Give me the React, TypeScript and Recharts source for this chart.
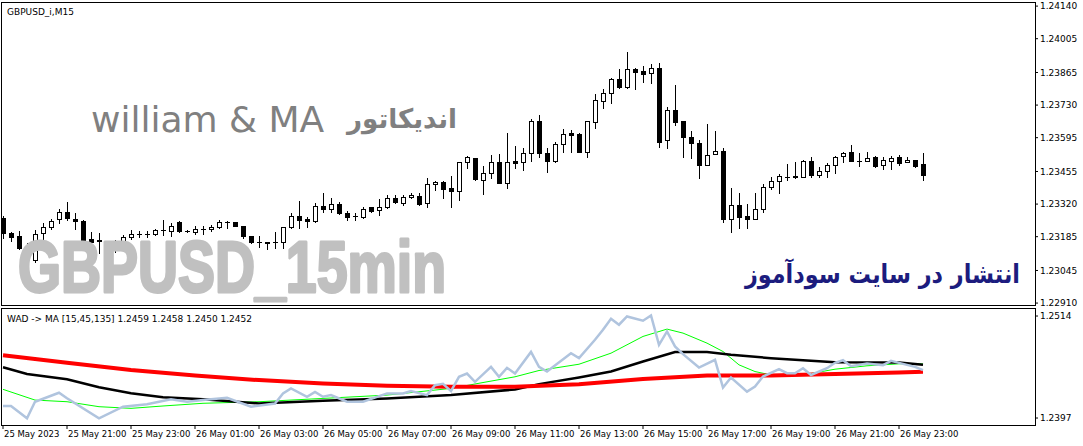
import React from 'react';
import { ComposedChart, Bar, Line, XAxis, YAxis, ReferenceArea } from 'recharts';

// GBPUSD M15, 25 May 19:00 -> 26 May 23:45, one value per bar
const openPrices = [
    1.23262, 1.23200, 1.23188, 1.23146, 1.23088, 1.23200, 1.23225, 1.23258, 1.23287, 1.23258,
    1.23250, 1.23175, 1.23171, 1.23138, 1.23138, 1.23154, 1.23183, 1.23196, 1.23196, 1.23196,
    1.23212, 1.23208, 1.23246, 1.23208, 1.23204, 1.23217, 1.23217, 1.23225, 1.23246, 1.23246,
    1.23229, 1.23188, 1.23163, 1.23163, 1.23163, 1.23163, 1.23225, 1.23270, 1.23258, 1.23250,
    1.23312, 1.23299, 1.23320, 1.23283, 1.23270, 1.23266, 1.23308, 1.23295, 1.23308, 1.23345,
    1.23324, 1.23349, 1.23353, 1.23324, 1.23403, 1.23411, 1.23386, 1.23374, 1.23494, 1.23511,
    1.23419, 1.23448, 1.23494, 1.23407, 1.23498, 1.23494, 1.23531, 1.23664, 1.23531, 1.23498,
    1.23569, 1.23614, 1.23610, 1.23535, 1.23660, 1.23747, 1.23780, 1.23838, 1.23805, 1.23879,
    1.23871, 1.23863, 1.23883, 1.23585, 1.23709, 1.23664, 1.23598, 1.23573, 1.23482, 1.23527,
    1.23540, 1.23258, 1.23316, 1.23270, 1.23258, 1.23299, 1.23390, 1.23415, 1.23432, 1.23436,
    1.23432, 1.23498, 1.23440, 1.23457, 1.23482, 1.23519, 1.23535, 1.23498, 1.23498, 1.23515,
    1.23482, 1.23498, 1.23515, 1.23494, 1.23502, 1.23486,
];
const highPrices = [
    1.23270, 1.23204, 1.23208, 1.23159, 1.23212, 1.23241, 1.23258, 1.23299, 1.23328, 1.23283,
    1.23254, 1.23204, 1.23200, 1.23150, 1.23171, 1.23192, 1.23212, 1.23208, 1.23208, 1.23217,
    1.23254, 1.23241, 1.23250, 1.23212, 1.23229, 1.23229, 1.23233, 1.23254, 1.23250, 1.23246,
    1.23229, 1.23188, 1.23188, 1.23163, 1.23204, 1.23225, 1.23283, 1.23333, 1.23266, 1.23324,
    1.23366, 1.23345, 1.23328, 1.23291, 1.23283, 1.23308, 1.23308, 1.23341, 1.23357, 1.23357,
    1.23357, 1.23366, 1.23366, 1.23428, 1.23415, 1.23415, 1.23436, 1.23494, 1.23519, 1.23511,
    1.23477, 1.23523, 1.23527, 1.23614, 1.23560, 1.23552, 1.23672, 1.23689, 1.23552, 1.23577,
    1.23631, 1.23627, 1.23614, 1.23664, 1.23776, 1.23796, 1.23842, 1.23879, 1.23950, 1.23883,
    1.23892, 1.23900, 1.23904, 1.23722, 1.23813, 1.23664, 1.23622, 1.23585, 1.23651, 1.23622,
    1.23552, 1.23386, 1.23366, 1.23320, 1.23366, 1.23403, 1.23432, 1.23444, 1.23486, 1.23494,
    1.23502, 1.23515, 1.23473, 1.23490, 1.23519, 1.23535, 1.23564, 1.23531, 1.23535, 1.23519,
    1.23515, 1.23519, 1.23523, 1.23515, 1.23502, 1.23531,
];
const lowPrices = [
    1.23179, 1.23167, 1.23134, 1.23105, 1.23080, 1.23163, 1.23217, 1.23241, 1.23254, 1.23217,
    1.23167, 1.23159, 1.23117, 1.23105, 1.23121, 1.23138, 1.23175, 1.23183, 1.23183, 1.23192,
    1.23192, 1.23188, 1.23204, 1.23204, 1.23196, 1.23196, 1.23208, 1.23221, 1.23221, 1.23229,
    1.23179, 1.23159, 1.23142, 1.23134, 1.23138, 1.23138, 1.23221, 1.23221, 1.23225, 1.23246,
    1.23287, 1.23287, 1.23279, 1.23254, 1.23254, 1.23262, 1.23287, 1.23275, 1.23304, 1.23324,
    1.23316, 1.23345, 1.23316, 1.23308, 1.23378, 1.23345, 1.23308, 1.23337, 1.23469, 1.23419,
    1.23362, 1.23428, 1.23407, 1.23386, 1.23469, 1.23461, 1.23498, 1.23515, 1.23453, 1.23494,
    1.23535, 1.23535, 1.23535, 1.23515, 1.23635, 1.23718, 1.23738, 1.23800, 1.23800, 1.23796,
    1.23825, 1.23821, 1.23556, 1.23552, 1.23647, 1.23515, 1.23511, 1.23428, 1.23482, 1.23527,
    1.23246, 1.23204, 1.23221, 1.23221, 1.23258, 1.23287, 1.23382, 1.23366, 1.23419, 1.23428,
    1.23432, 1.23432, 1.23432, 1.23432, 1.23448, 1.23494, 1.23498, 1.23477, 1.23498, 1.23473,
    1.23465, 1.23465, 1.23482, 1.23494, 1.23473, 1.23419,
];
const closePrices = [
    1.23200, 1.23183, 1.23138, 1.23121, 1.23196, 1.23225, 1.23250, 1.23287, 1.23262, 1.23250,
    1.23171, 1.23163, 1.23167, 1.23138, 1.23163, 1.23183, 1.23196, 1.23196, 1.23196, 1.23212,
    1.23212, 1.23229, 1.23208, 1.23208, 1.23217, 1.23217, 1.23225, 1.23246, 1.23246, 1.23229,
    1.23188, 1.23163, 1.23163, 1.23159, 1.23163, 1.23225, 1.23270, 1.23254, 1.23250, 1.23312,
    1.23299, 1.23320, 1.23283, 1.23266, 1.23270, 1.23299, 1.23291, 1.23308, 1.23345, 1.23328,
    1.23349, 1.23357, 1.23320, 1.23403, 1.23411, 1.23382, 1.23374, 1.23494, 1.23515, 1.23424,
    1.23448, 1.23494, 1.23407, 1.23494, 1.23490, 1.23531, 1.23664, 1.23531, 1.23498, 1.23569,
    1.23610, 1.23606, 1.23535, 1.23664, 1.23751, 1.23780, 1.23838, 1.23805, 1.23879, 1.23867,
    1.23858, 1.23883, 1.23577, 1.23709, 1.23660, 1.23598, 1.23573, 1.23482, 1.23523, 1.23540,
    1.23258, 1.23316, 1.23266, 1.23258, 1.23299, 1.23390, 1.23415, 1.23436, 1.23432, 1.23432,
    1.23498, 1.23440, 1.23457, 1.23482, 1.23515, 1.23531, 1.23498, 1.23498, 1.23511, 1.23477,
    1.23502, 1.23511, 1.23490, 1.23502, 1.23477, 1.23440,
];

const priceTicks = [1.2291, 1.23045, 1.23185, 1.2332, 1.23455, 1.23595, 1.2373, 1.23865, 1.24005, 1.2414];
const timeTickBars = [0, 8, 16, 24, 32, 40, 48, 56, 64, 72, 80, 88, 96, 104, 112];
const timeLabels = [
    '25 May 2023', '25 May 21:00', '25 May 23:00', '26 May 01:00', '26 May 03:00',
    '26 May 05:00', '26 May 07:00', '26 May 09:00', '26 May 11:00', '26 May 13:00',
    '26 May 15:00', '26 May 17:00', '26 May 19:00', '26 May 21:00', '26 May 23:00',
];

// WAD indicator panel, read at the bars where the lines bend
const ma15Bars = [0, 4, 8, 12, 16, 20, 25, 32, 40, 48, 56, 60, 64, 67, 72, 76, 80, 83, 85, 88, 90, 92, 94, 96, 100, 104, 108, 112, 114, 115];
const ma15Values = [
    1.24299, 1.24176, 1.24157, 1.24100, 1.24081, 1.24108, 1.24139, 1.24157, 1.24195, 1.24233,
    1.24310, 1.24377, 1.24443, 1.24515, 1.24587, 1.24714, 1.24906, 1.24990, 1.24944, 1.24829,
    1.24733, 1.24580, 1.24503, 1.24464, 1.24464, 1.24530, 1.24569, 1.24592, 1.24595, 1.24590,
];
const ma45Bars = [0, 3, 8, 12, 16, 20, 25, 32, 40, 48, 56, 64, 67, 72, 76, 80, 84, 88, 91, 96, 104, 112, 115];
const ma45Values = [
    1.24552, 1.24475, 1.24414, 1.24322, 1.24253, 1.24207, 1.24184, 1.24137, 1.24168, 1.24195,
    1.24233, 1.24298, 1.24359, 1.24435, 1.24503, 1.24618, 1.24726, 1.24726, 1.24695, 1.24657,
    1.24610, 1.24607, 1.24580,
];
const ma135Bars = [0, 8, 16, 24, 32, 40, 48, 56, 64, 72, 80, 88, 96, 104, 112, 115];
const ma135Values = [
    1.24690, 1.24605, 1.24520, 1.24457, 1.24405, 1.24366, 1.24339, 1.24328, 1.24328, 1.24358,
    1.24418, 1.24457, 1.24457, 1.24476, 1.24492, 1.24500,
];
const wadBars = [
    0, 1, 3, 4, 7, 8, 12, 15, 18, 21, 23, 25, 28, 31, 34, 35, 36, 38, 39, 40,
    41, 43, 45, 48, 50, 51, 53, 54, 55, 56, 57, 58, 59, 61, 62, 63, 64, 66, 67, 68,
    71, 72, 74, 75, 76, 77, 78, 80, 81, 82, 83, 84, 85, 87, 89, 90, 91, 93, 94, 95,
    97, 98, 99, 100, 101, 103, 104, 105, 106, 108, 110, 111, 112, 114, 115,
];
const wadValues = [
    1.24108, 1.24108, 1.23967, 1.24157, 1.24260, 1.24196, 1.23967, 1.24100, 1.24127, 1.24184,
    1.24157, 1.24176, 1.24203, 1.24100, 1.24137, 1.24252, 1.24310, 1.24214, 1.24270, 1.24214,
    1.24233, 1.24157, 1.24157, 1.24252, 1.24252, 1.24279, 1.24233, 1.24347, 1.24362, 1.24279,
    1.24443, 1.24480, 1.24385, 1.24557, 1.24443, 1.24546, 1.24480, 1.24728, 1.24557, 1.24503,
    1.24714, 1.24657, 1.24867, 1.24983, 1.25109, 1.25040, 1.25135, 1.25086, 1.25147, 1.24810,
    1.24963, 1.24791, 1.24703, 1.24549, 1.24638, 1.24319, 1.24435, 1.24273, 1.24330, 1.24446,
    1.24530, 1.24484, 1.24484, 1.24541, 1.24464, 1.24541, 1.24603, 1.24633, 1.24564, 1.24595,
    1.24576, 1.24626, 1.24603, 1.24557, 1.24520,
];
const wadTicks = [1.2397, 1.2514];

const candles = openPrices.map((open, i) => ({
    i,
    open,
    high: highPrices[i],
    low: lowPrices[i],
    close: closePrices[i],
}));

function pick(bars: number[], values: number[], i: number): number | null {
    const k = bars.indexOf(i);
    return k < 0 ? null : values[k];
}

const wadRows = openPrices.map((_, i) => ({
    i,
    ma15: pick(ma15Bars, ma15Values, i),
    ma45: pick(ma45Bars, ma45Values, i),
    ma135: pick(ma135Bars, ma135Values, i),
    wad: pick(wadBars, wadValues, i),
}));

const FONT = '"DejaVu Sans", Tahoma, sans-serif';
const X_DOMAIN: [number, number] = [-0.25, 129];
const PRICE_DOMAIN: [number, number] = [1.22902, 1.24157];
const WAD_DOMAIN: [number, number] = [1.2389, 1.25232];

function Candle(props: any) {
    const { x, y, width, height, payload } = props;
    if (x == null || y == null || !payload) return null;
    const top = height >= 0 ? y : y + height;
    const span = Math.abs(height);
    const range = payload.high - payload.low;
    const toPx = (v: number) => top + (range > 0 ? ((payload.high - v) / range) * span : 0);
    const c = Math.round(x + width / 2);
    const wickTop = Math.round(toPx(payload.high));
    const wickBottom = Math.round(toPx(payload.low));
    const bodyTop = Math.round(toPx(Math.max(payload.open, payload.close)));
    const bodyBottom = Math.round(toPx(Math.min(payload.open, payload.close)));
    const bullish = payload.close > payload.open;

    return (
        <g shapeRendering="crispEdges">
            <rect x={c} y={wickTop} width={1} height={wickBottom - wickTop + 1} fill="#000" />
            {bodyBottom - bodyTop < 1 ? (
                <rect x={c - 2} y={bodyTop} width={5} height={1} fill="#000" />
            ) : bullish ? (
                <rect x={c - 1.5} y={bodyTop + 0.5} width={4} height={bodyBottom - bodyTop} fill="#fff" stroke="#000" strokeWidth={1} />
            ) : (
                <rect x={c - 2} y={bodyTop} width={5} height={bodyBottom - bodyTop + 1} fill="#000" />
            )}
        </g>
    );
}

function Frame(props: any) {
    return (
        <rect
            x={Math.round(props.x) + 0.5}
            y={Math.round(props.y) + 0.5}
            width={Math.round(props.width)}
            height={Math.round(props.height)}
            fill="none"
            stroke="#000"
            strokeWidth={1}
            shapeRendering="crispEdges"
        />
    );
}

function TimeTick(props: any) {
    const { x, y, payload } = props;
    const label = timeLabels[timeTickBars.indexOf(payload.value)];
    return (
        <text x={Math.round(x) + 1} y={y} dy="0.71em" textAnchor="start" fontFamily={FONT} fontSize={8.5} fill="#000">
            {label}
        </text>
    );
}

export default function App() {
    return (
        <div style={{ position: 'absolute', left: 0, top: 0, width: 1083, height: 446, background: '#fff', overflow: 'hidden' }}>
            <div style={{ position: 'absolute', left: 0, top: 0 }}>
                <ComposedChart width={1083} height={310} data={candles} margin={{ top: 2, right: 0, bottom: 5, left: 1 }}>
                    <XAxis dataKey="i" type="number" domain={X_DOMAIN} allowDataOverflow hide />
                    <YAxis
                        orientation="right"
                        width={48}
                        type="number"
                        domain={PRICE_DOMAIN}
                        allowDataOverflow
                        ticks={priceTicks}
                        interval={0}
                        tickFormatter={(v: number) => v.toFixed(5)}
                        axisLine={false}
                        tickSize={3}
                        tickLine={{ stroke: '#000' }}
                        tick={{ fontFamily: FONT, fontSize: 9, fill: '#000' }}
                    />
                    <ReferenceArea x1={X_DOMAIN[0]} x2={X_DOMAIN[1]} y1={PRICE_DOMAIN[0]} y2={PRICE_DOMAIN[1]} shape={(p: any) => <Frame {...p} />} ifOverflow="visible" />
                    <Bar
                        dataKey={(d: any) => [d.low, d.high]}
                        barSize={5}
                        shape={(p: any) => <Candle {...p} />}
                        isAnimationActive={false}
                    />
                </ComposedChart>
            </div>
            <div style={{ position: 'absolute', left: 0, top: 305 }}>
                <ComposedChart width={1083} height={141} data={wadRows} margin={{ top: 3, right: 0, bottom: 0, left: 1 }}>
                    <XAxis
                        dataKey="i"
                        type="number"
                        domain={X_DOMAIN}
                        allowDataOverflow
                        ticks={timeTickBars}
                        interval={0}
                        height={21}
                        axisLine={false}
                        tickSize={4}
                        tickLine={{ stroke: '#000' }}
                        tick={(p: any) => <TimeTick {...p} />}
                    />
                    <YAxis
                        orientation="right"
                        width={48}
                        type="number"
                        domain={WAD_DOMAIN}
                        allowDataOverflow
                        ticks={wadTicks}
                        interval={0}
                        tickFormatter={(v: number) => v.toFixed(4)}
                        axisLine={false}
                        tickSize={3}
                        tickLine={{ stroke: '#000' }}
                        tick={{ fontFamily: FONT, fontSize: 9, fill: '#000' }}
                    />
                    <ReferenceArea x1={X_DOMAIN[0]} x2={X_DOMAIN[1]} y1={WAD_DOMAIN[0]} y2={WAD_DOMAIN[1]} shape={(p: any) => <Frame {...p} />} ifOverflow="visible" />
                    <Line type="linear" dataKey="ma15" stroke="#00ff00" strokeWidth={1} dot={false} connectNulls isAnimationActive={false} />
                    <Line type="linear" dataKey="ma45" stroke="#000000" strokeWidth={2.5} dot={false} connectNulls isAnimationActive={false} />
                    <Line type="linear" dataKey="ma135" stroke="#ff0000" strokeWidth={4} dot={false} connectNulls isAnimationActive={false} />
                    <Line type="linear" dataKey="wad" stroke="#b0c4de" strokeWidth={2.5} dot={false} connectNulls isAnimationActive={false} />
                </ComposedChart>
            </div>
            <svg width={1083} height={446} style={{ position: 'absolute', left: 0, top: 0, pointerEvents: 'none' }}>
                <text x={7} y={15} fontFamily={FONT} fontSize={9} fill="#000">GBPUSD_i,M15</text>
                <text x={7} y={322} fontFamily={FONT} fontSize={9} fill="#000">WAD -&gt; MA [15,45,135] 1.2459 1.2458 1.2450 1.2452</text>
                <text x={91} y={132} fontFamily={FONT} fontSize={36} fill="#808080">william &amp; MA</text>
                <text transform="translate(457,128) scale(0.97,1)" x={0} y={0} fontFamily={FONT} fontSize={27} fontWeight="bold" fill="#808080" textAnchor="end">اندیکاتور</text>
                <text
                    x={18}
                    y={292}
                    fontFamily='"Liberation Sans Narrow", "Liberation Sans", sans-serif'
                    fontSize={72}
                    fontWeight="bold"
                    fill="#c0c0c0"
                    stroke="#c0c0c0"
                    strokeWidth={3}
                    strokeLinejoin="round"
                    textLength={428}
                    lengthAdjust="spacingAndGlyphs"
                >
                    GBPUSD_15min
                </text>
                <text transform="translate(1020,283) scale(0.86,1)" x={0} y={0} fontFamily={FONT} fontSize={26} fontWeight="bold" fill="#1c1c7e" textAnchor="end">انتشار در سایت سودآموز</text>
            </svg>
        </div>
    );
}
